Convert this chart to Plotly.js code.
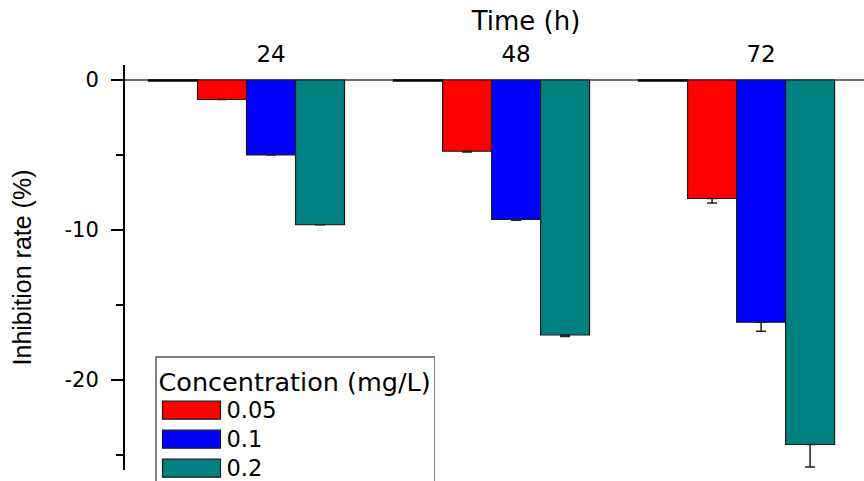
<!DOCTYPE html>
<html><head><meta charset="utf-8">
<script src="https://cdn.plot.ly/plotly-3.0.1.min.js"></script>
<style>html,body{margin:0;padding:0;background:#fff;overflow:hidden}</style>
</head><body><div id="chart" style="width:864px;height:481px"></div>
<script>
// ---- data ----
const timeLabels = ['24', '48', '72'];          // Time (h)
const groupIndex = [0, 1, 2];
const concentrations = ['0.05', '0.1', '0.2'];  // mg/L
const controlValues = [-0.06, -0.06, -0.06];    // control (~0)
const values005 = [-1.3, -4.75, -7.9];
const values01  = [-5.0, -9.3, -16.15];
const values02  = [-9.65, -17.0, -24.3];
const err005 = [0, 0.05, 0.3];
const err01  = [0, 0.05, 0.6];
const err02  = [0, 0.1, 1.5];
const yTickVals = [0, -10, -20];
const yTickText = ['0', '-10', '-20'];
const colors = ['#ff0000', '#0000ff', '#008080'];

const bargap = 0.2;
const nBars = 4;
const barW = (1 - bargap) / nBars;
const tickPos = groupIndex.map(i => i + barW / 2);

const F = 'DejaVu Sans, Arial, sans-serif';

function errObj(arr) {
  return {type: 'data', symmetric: false, array: arr.map(() => 0), arrayminus: arr,
          color: '#222', thickness: 1.5, width: 5};
}

const traces = [
  {type: 'bar', x: groupIndex, y: controlValues, name: '0', showlegend: false,
   marker: {color: '#ffffff', line: {color: '#000', width: 1.5}}, hoverinfo: 'skip'}
];
const series = [values005, values01, values02];
const errs = [err005, err01, err02];
series.forEach((s, k) => {
  traces.push({type: 'bar', x: groupIndex, y: s, name: concentrations[k],
    marker: {color: colors[k], line: {color: '#1a1a1a', width: 1.2}},
    error_y: errObj(errs[k])});
});

const layout = {
  width: 864, height: 481,
  margin: {l: 125, r: 0, t: 65, b: 11, autoexpand: false},
  paper_bgcolor: '#fff', plot_bgcolor: '#fff',
  barmode: 'group', bargap: bargap, bargroupgap: 0,
  title: {text: 'Time (h)', font: {family: F, size: 26, color: '#000'},
          x: 526 / 864, xanchor: 'center', xref: 'container', y: 1 - 21 / 481, yanchor: 'middle'},
  xaxis: {type: 'linear', range: [-0.496, 2.52], side: 'top',
          tickvals: tickPos, ticktext: timeLabels, ticks: '', showline: false,
          ticklabelstandoff: -3,
          showgrid: false, zeroline: false, tickfont: {family: F, size: 23, color: '#000'}},
  yaxis: {range: [-26, 1], tickmode: 'array', tickvals: yTickVals, ticktext: yTickText,
          ticks: 'outside', ticklen: 12, tickwidth: 2,
          tickcolor: '#000', showline: true, linewidth: 2, linecolor: '#000',
          showgrid: false, zeroline: true, zerolinecolor: '#707070', zerolinewidth: 2,
          ticklabelstandoff: 8,
          minor: {tickmode: 'linear', tick0: 0, dtick: 5, ticks: 'outside', ticklen: 7, tickwidth: 2,
                  tickcolor: '#000', showgrid: false},
          tickfont: {family: F, size: 21, color: '#000'},
          title: {text: 'Inhibition rate (%)', standoff: 26,
                  font: {family: 'Liberation Sans, Arial, sans-serif', size: 25, color: '#000'}}},
  legend: {x: 30 / 739, y: 114 / 405, xanchor: 'left', yanchor: 'top',
           bgcolor: '#fff', bordercolor: '#808080', borderwidth: 1.5,
           itemwidth: 60, tracegroupgap: 0,
           title: {text: 'Concentration (mg/L)', font: {family: F, size: 25.5, color: '#000'}},
           font: {family: F, size: 20, color: '#000'}},
  showlegend: true
};

Plotly.newPlot('chart', traces, layout, {displayModeBar: false, staticPlot: true}).then(() => {
  document.querySelectorAll('.legend .legendpoints path').forEach(p => {
    p.setAttribute('d', 'M29,9H-29V-9H29Z');
  });
  document.querySelectorAll('.legend .legendtext').forEach(t => {
    t.style.fontSize = '22.5px';
  });
});
</script></body></html>
